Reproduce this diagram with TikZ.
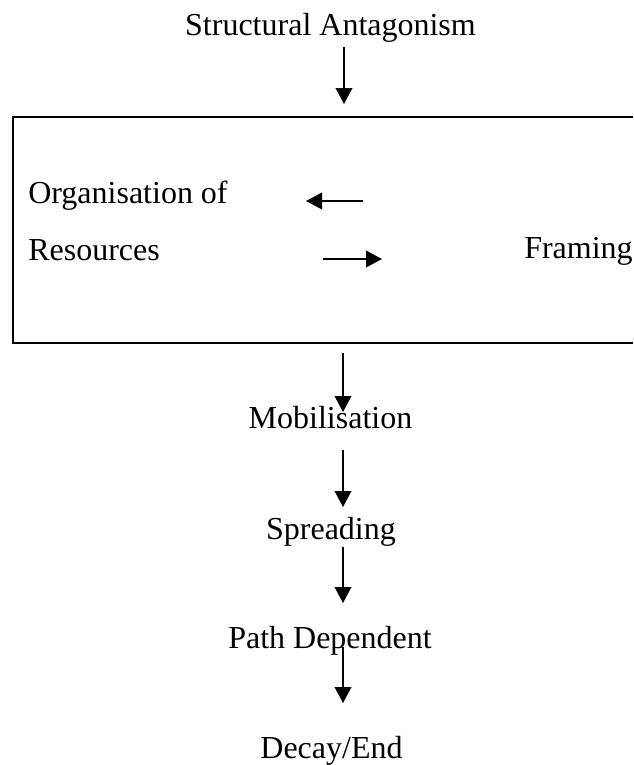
\documentclass[tikz,border=0pt]{standalone}
\usepackage{fontspec}
\setmainfont{Liberation Serif}
\usetikzlibrary{arrows.meta}
\begin{document}
\begin{tikzpicture}[x=0.75pt,y=-0.75pt,
  lbl/.style={inner sep=0pt,font=\fontsize{24pt}{28pt}\selectfont},
  flow/.style={line width=1.1pt,-{Triangle[length=12pt,width=12.5pt]}},
  frame/.style={line width=1.8pt}]
\useasboundingbox (0,0) rectangle (633,765);
\clip (0,0) rectangle (633,765);
% texts
\node[lbl,anchor=base] (title) at (330.5,35) {Structural Antagonism};
\node[lbl,anchor=base west] (org) at (28,203) {Organisation of};
\node[lbl,anchor=base west] (res) at (28,260) {Resources};
\node[lbl,anchor=base west] (fram) at (524,258) {Framing};
\node[lbl,anchor=base] (mob) at (330.5,428) {Mobilisation};
\node[lbl,anchor=base] (spr) at (331,539) {Spreading};
\node[lbl,anchor=base] (path) at (330,648) {Path Dependent};
\node[lbl,anchor=base] (dec) at (331.5,758) {Decay/End};
% box
\coordinate (btr) at (633,117);
\coordinate (btl) at (13,117);
\coordinate (bbl) at (13,343);
\coordinate (bbr) at (633,343);
\draw[frame] (btr) -- (btl) -- (bbl) -- (bbr);
% arrow end points
\coordinate (a1s) at (344,47);  \coordinate (a1e) at (344,104);
\coordinate (a2s) at (343,353); \coordinate (a2e) at (343,412);
\coordinate (a3s) at (343,450); \coordinate (a3e) at (343,507);
\coordinate (a4s) at (343,547); \coordinate (a4e) at (343,603);
\coordinate (a5s) at (343,647); \coordinate (a5e) at (343,703);
\coordinate (lls) at (363,201); \coordinate (lle) at (306,201);
\coordinate (rrs) at (323,259); \coordinate (rre) at (382,259);
\draw[flow] (a1s) -- (a1e);
\draw[flow] (a2s) -- (a2e);
\draw[flow] (a3s) -- (a3e);
\draw[flow] (a4s) -- (a4e);
\draw[flow] (a5s) -- (a5e);
\draw[flow] (lls) -- (lle);
\draw[flow] (rrs) -- (rre);
\end{tikzpicture}
\end{document}
